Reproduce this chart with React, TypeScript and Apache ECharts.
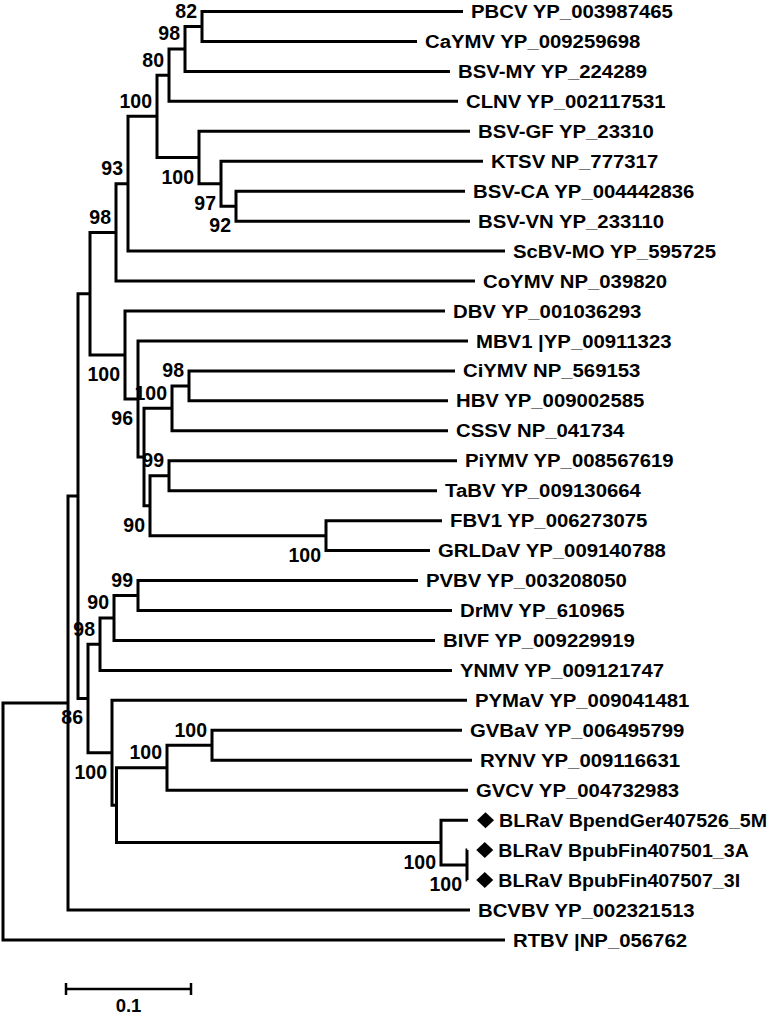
import React, { useEffect, useRef } from 'react';
import * as echarts from 'echarts';

// ---- Leaves (top to bottom) ----
const leafNames = [
  'PBCV YP_003987465', 'CaYMV YP_009259698', 'BSV-MY YP_224289', 'CLNV YP_002117531',
  'BSV-GF YP_23310', 'KTSV NP_777317', 'BSV-CA YP_004442836', 'BSV-VN YP_233110',
  'ScBV-MO YP_595725', 'CoYMV NP_039820', 'DBV YP_001036293', 'MBV1 |YP_00911323',
  'CiYMV NP_569153', 'HBV YP_009002585', 'CSSV NP_041734', 'PiYMV YP_008567619',
  'TaBV YP_009130664', 'FBV1 YP_006273075', 'GRLDaV YP_009140788', 'PVBV YP_003208050',
  'DrMV YP_610965', 'BIVF YP_009229919', 'YNMV YP_009121747', 'PYMaV YP_009041481',
  'GVBaV YP_006495799', 'RYNV YP_009116631', 'GVCV YP_004732983', 'BLRaV BpendGer407526_5M',
  'BLRaV BpubFin407501_3A', 'BLRaV BpubFin407507_3I', 'BCVBV YP_002321513', 'RTBV |NP_056762',
];
// cumulative distance from root
const leafDepth = [
  0.368, 0.3312, 0.3576, 0.364, 0.3736, 0.384, 0.3696, 0.3736,
  0.4016, 0.3776, 0.3536, 0.372, 0.3616, 0.356, 0.356, 0.3632,
  0.3472, 0.3512, 0.3416, 0.332, 0.3592, 0.3456, 0.3592, 0.3712,
  0.3672, 0.3752, 0.372, 0.372, 0.3714, 0.3714, 0.3736, 0.4016,
];
const leafMarked = [
  false, false, false, false, false, false, false, false,
  false, false, false, false, false, false, false, false,
  false, false, false, false, false, false, false, false,
  false, false, false, true, true, true, false, false,
];

// ---- Internal nodes ----
const nodeNames = ['root', 'BB', 'AA', 'J', 'I', 'H', 'G', 'C', 'B', 'A', 'D', 'E', 'F', 'K', 'L', 'N', 'M', 'Q', 'P', 'R', 'S', 'W', 'V', 'U', 'T', 'X', 'Y', 'Z2', 'Z', 'BL', 'BL2'];
// children: string = internal node, number = leaf index
const nodeChildren: (string | number)[][] = [
  ['BB', 31], ['AA', 30], ['J', 'W'], ['I', 'K'], ['H', 9], ['G', 8], ['C', 'D'], ['B', 3],
  ['A', 2], [0, 1], [4, 'E'], [5, 'F'], [6, 7], [10, 'L'], [11, 'N'], ['M', 'P'],
  ['Q', 14], [12, 13], ['R', 'S'], [15, 16], [17, 18], ['V', 'X'], ['U', 22], ['T', 21],
  [19, 20], [23, 'Y'], ['Z2', 'BL'], ['Z', 26], [24, 25], [27, 'BL2'], [28, 29],
];
const nodeDepth = [
  0, 0.052, 0.06, 0.0696, 0.0904, 0.1, 0.1232, 0.1328, 0.1456, 0.1592, 0.1568, 0.1744, 0.1864,
  0.0976, 0.108, 0.1128, 0.1352, 0.1488, 0.1176, 0.1328, 0.2584, 0.068, 0.0776, 0.0888, 0.108,
  0.0872, 0.0908, 0.1312, 0.1672, 0.3504, 0.3712,
];
const nodeSupport: (number | null)[] = [
  null, null, null, null, 98, 93, 100, 80, 98, 82, 100, 97, 92,
  100, 96, null, 100, 98, 90, 99, 100, 86, 98, 90, 99,
  100, null, 100, 100, 100, 100,
];

// ---- Scale bar ----
const scaleBarLength = 0.1;
const scaleBarLabel = '0.1';

// ---- layout constants (pixels / placement) ----
const W = 772;
const H = 1015;
const ROOT_PX = 3;
const PX_PER_UNIT = 1250;
const FIRST_LEAF_PX = 11.5;
const LEAF_STEP_PX = 29.95;
const SCALE_BAR_X = (66 - ROOT_PX) / PX_PER_UNIT;
const SCALE_BAR_Y = (989 - FIRST_LEAF_PX) / LEAF_STEP_PX;
const FONT = '"Liberation Sans", Arial, Helvetica, sans-serif';

type Pos = { x: number; y: number };
function layout() {
  const pos: Record<string, Pos> = {};
  const side: Record<string, 'above' | 'below'> = {};
  const get = (k: string | number): Pos => {
    if (typeof k === 'number') return { x: leafDepth[k], y: k };
    if (pos[k]) return pos[k];
    const i = nodeNames.indexOf(k);
    const ch = nodeChildren[i].map(get);
    nodeChildren[i].forEach((c, j) => {
      if (typeof c === 'string') side[c] = j === 0 ? 'above' : 'below';
    });
    const p = { x: nodeDepth[i], y: (ch[0].y + ch[ch.length - 1].y) / 2 };
    pos[k] = p;
    return p;
  };
  get('root');
  return { pos, side, get };
}

export default function App() {
  const ref = useRef<HTMLDivElement>(null);
  useEffect(() => {
    const chart = echarts.init(ref.current!, null, { renderer: 'svg' });
    const { pos, side, get } = layout();

    const branchData = nodeNames.map((n, i) => {
      const c = nodeChildren[i].map(get);
      return [nodeDepth[i], c[0].x, c[0].y, c[c.length - 1].x, c[c.length - 1].y];
    });
    const supportData = nodeNames
      .map((n, i) => ({ n, i }))
      .filter(({ i }) => nodeSupport[i] != null)
      .map(({ n, i }) => [pos[n].x, pos[n].y, nodeSupport[i] as number, side[n] === 'below' ? 1 : 0]);
    const leafData = leafNames.map((name, i) => [leafDepth[i], i, leafMarked[i] ? 1 : 0]);
    const markerData = leafNames.map((n, i) => i).filter((i) => leafMarked[i]).map((i) => [leafDepth[i], i]);

    const option: any = {
      animation: false,
      backgroundColor: '#fff',
      grid: { left: 0, right: 0, top: 0, bottom: 0 },
      xAxis: {
        type: 'value',
        min: -ROOT_PX / PX_PER_UNIT,
        max: (W - ROOT_PX) / PX_PER_UNIT,
        show: false,
      },
      yAxis: {
        type: 'value',
        inverse: true,
        min: -FIRST_LEAF_PX / LEAF_STEP_PX,
        max: (H - FIRST_LEAF_PX) / LEAF_STEP_PX,
        show: false,
      },
      series: [
        {
          type: 'custom',
          name: 'branches',
          clip: false,
          data: branchData,
          renderItem: (params: any, api: any) => {
            const x = api.value(0);
            const p1 = api.coord([api.value(1), api.value(2)]);
            const p2 = api.coord([x, api.value(2)]);
            const p3 = api.coord([x, api.value(4)]);
            const p4 = api.coord([api.value(3), api.value(4)]);
            return {
              type: 'polyline',
              shape: { points: [p1, p2, p3, p4] },
              style: { stroke: '#000', lineWidth: 3, fill: 'none', lineJoin: 'miter', lineCap: 'butt' },
            };
          },
        },
        {
          type: 'custom',
          name: 'support',
          clip: false,
          data: supportData,
          renderItem: (params: any, api: any) => {
            const p = api.coord([api.value(0), api.value(1)]);
            const below = api.value(3) === 1;
            return {
              type: 'text',
              x: p[0] - 5,
              y: p[1] + (below ? 19 : -15.5),
              style: {
                text: String(api.value(2)),
                fill: '#000',
                fontSize: 19.5,
                fontWeight: 'bold',
                fontFamily: FONT,
                align: 'right',
                verticalAlign: 'middle',
              },
            };
          },
        },
        {
          type: 'custom',
          name: 'leaves',
          clip: false,
          data: leafData,
          renderItem: (params: any, api: any) => {
            const p = api.coord([api.value(0), api.value(1)]);
            const marked = api.value(2) === 1;
            return {
              type: 'text',
              x: p[0] + (marked ? 31 : 8),
              y: p[1] + 0.5,
              scaleX: marked ? 1.09 : 1.13,
              style: {
                text: leafNames[params.dataIndex],
                fill: '#000',
                fontSize: 18,
                fontWeight: 'bold',
                fontFamily: FONT,
                align: 'left',
                verticalAlign: 'middle',
              },
            };
          },
        },
        {
          type: 'scatter',
          name: 'markers',
          data: markerData,
          symbol: 'diamond',
          symbolSize: [17, 16],
          symbolOffset: [17.5, 0],
          itemStyle: { color: '#000', opacity: 1 },
          silent: true,
        },
        {
          type: 'custom',
          name: 'scalebar',
          clip: false,
          data: [[SCALE_BAR_X, SCALE_BAR_Y, scaleBarLength]],
          renderItem: (params: any, api: any) => {
            const a = api.coord([api.value(0), api.value(1)]);
            const b = api.coord([api.value(0) + api.value(2), api.value(1)]);
            const st = { stroke: '#000', lineWidth: 2.5 };
            return {
              type: 'group',
              children: [
                { type: 'line', shape: { x1: a[0], y1: a[1], x2: b[0], y2: b[1] }, style: st },
                { type: 'line', shape: { x1: a[0], y1: a[1] - 6, x2: a[0], y2: a[1] + 6 }, style: st },
                { type: 'line', shape: { x1: b[0], y1: b[1] - 6, x2: b[0], y2: b[1] + 6 }, style: st },
                {
                  type: 'text',
                  x: (a[0] + b[0]) / 2,
                  y: a[1] + 16.5,
                  style: {
                    text: scaleBarLabel,
                    fill: '#000',
                    fontSize: 18.5,
                    fontWeight: 'bold',
                    fontFamily: FONT,
                    align: 'center',
                    verticalAlign: 'middle',
                  },
                },
              ],
            };
          },
        },
      ],
    };
    chart.setOption(option);
    return () => chart.dispose();
  }, []);
  return (
    <div
      ref={ref}
      style={{ position: 'fixed', left: 0, top: 0, width: W, height: H, background: '#fff' }}
    />
  );
}
